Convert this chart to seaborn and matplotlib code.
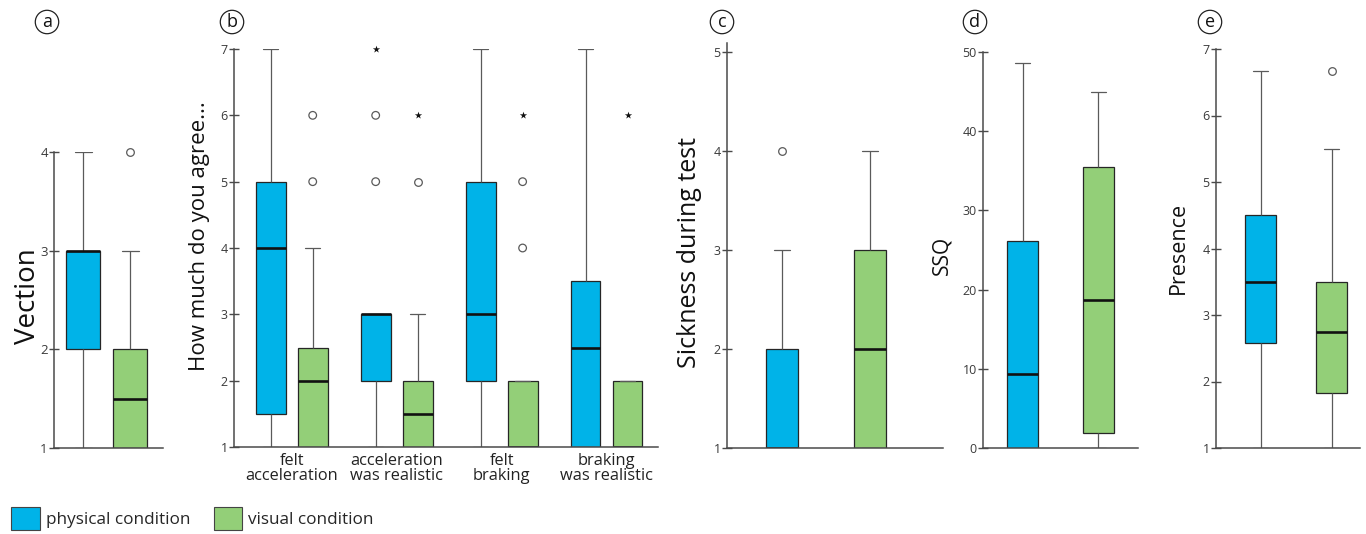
import numpy as np
import pandas as pd
import matplotlib
matplotlib.use("Agg")
import matplotlib.pyplot as plt
import seaborn as sns
from matplotlib.patches import Patch
from matplotlib.collections import PathCollection

# ---------------- data (five-number summaries) -------------
conditions = ["physical condition", "visual condition"]
condition_colors = ["#00B3E8", "#93CF78"]

# (a) Vection : [low whisker, Q1, median, Q3, high whisker]
a_physical = [1, 2, 3, 3, 4]
a_visual = [1, 1, 1.5, 2, 3]
a_circle_cond = ["visual condition"]
a_circle_val = [4]

# (b) How much do you agree...
b_questions = ["felt\nacceleration", "acceleration\nwas realistic",
               "felt\nbraking", "braking\nwas realistic"]
b_physical = [[1, 1.5, 4, 5, 7],
              [1, 2, 3, 3, 3],
              [1, 2, 3, 5, 7],
              [1, 1, 2.5, 3.5, 7]]
b_visual = [[1, 1, 2, 2.5, 4],
            [1, 1, 1.5, 2, 3],
            [1, 1, 1, 2, 2],
            [1, 1, 1, 2, 2]]
b_circle_q = [0, 0, 1, 1, 1, 2, 2]
b_circle_cond = ["visual condition", "visual condition", "physical condition",
                 "physical condition", "visual condition", "visual condition",
                 "visual condition"]
b_circle_val = [5, 6, 5, 6, 5, 4, 5]
b_star_q = [1, 1, 2, 3]
b_star_cond = ["physical condition", "visual condition", "visual condition",
               "visual condition"]
b_star_val = [7, 6, 6, 6]

# (c) Sickness during test
c_physical = [1, 1, 1, 2, 3]
c_visual = [1, 1, 2, 3, 4]
c_circle_cond = ["physical condition"]
c_circle_val = [4]

# (d) SSQ
d_physical = [0, 0, 9.3, 26.1, 48.6]
d_visual = [0, 1.9, 18.7, 35.5, 44.9]

# (e) Presence
e_physical = [1, 2.58, 3.5, 4.5, 6.67]
e_visual = [1, 1.83, 2.75, 3.5, 5.5]
e_circle_cond = ["visual condition"]
e_circle_val = [6.67]

# ---------------- style -------------
sns.set_style("ticks")
plt.rcParams["font.family"] = ["Open Sans", "DejaVu Sans"]

W, H = 1366, 534
fig = plt.figure(figsize=(W / 100, H / 100), dpi=100)
palette = dict(zip(conditions, condition_colors))

EDGE = "#262626"
WHISK = "#5a5a5a"
SPINE = "#4a4a4a"
TICKC = "#3a3a3a"


def add_ax(left, right, top, bottom):
    return fig.add_axes([left / W, 1 - bottom / H, (right - left) / W, (bottom - top) / H])


def box_kws():
    return dict(whis=(0, 100), showfliers=False, saturation=1, linecolor=EDGE,
                linewidth=0.9, legend=False,
                medianprops=dict(color="#111111", linewidth=1.9),
                whiskerprops=dict(color=WHISK, linewidth=0.9),
                capprops=dict(color=WHISK, linewidth=0.9))


def single_frame(phys, vis):
    rows = [(conditions[0], v) for v in phys] + [(conditions[1], v) for v in vis]
    return pd.DataFrame(rows, columns=["condition", "value"])


def style_ax(ax, yticks, ylim, xlim, label, lsize, lx, ly, tsize=9):
    ax.set_ylim(*ylim)
    ax.set_xlim(*xlim)
    ax.set_yticks(yticks)
    ax.set_yticklabels([str(t) for t in yticks])
    ax.tick_params(axis="y", direction="inout", length=7, width=1.0, color=SPINE,
                   labelsize=tsize, labelcolor=TICKC, pad=1)
    ax.tick_params(axis="x", length=0)
    sns.despine(ax=ax)
    for s in ["left", "bottom"]:
        ax.spines[s].set_color(SPINE)
        ax.spines[s].set_linewidth(1.1)
    ax.set_ylabel(label, fontsize=lsize, color="#111111")
    ax.yaxis.label.set_va("center")
    pos = ax.get_position()
    ax.yaxis.set_label_coords((lx / W - pos.x0) / pos.width,
                              ((1 - ly / H) - pos.y0) / pos.height)
    ax.set_xlabel("")
    # let outlier markers sitting on the top of the axis show fully
    for coll in ax.collections:
        if (isinstance(coll, PathCollection) and len(coll.get_offsets()) > 0
                and coll.get_offset_transform() is ax.transData):
            coll.set_clip_on(False)


def circles(ax, df, x, hue, dodge, order, hue_order):
    sns.stripplot(data=df, x=x, y="value", hue=hue, order=order, hue_order=hue_order,
                  dodge=dodge, jitter=False, palette={c: "white" for c in conditions},
                  edgecolor=WHISK, linewidth=0.9, size=5.5, marker="o", legend=False, ax=ax)


def stars(ax, df, x, hue, dodge, order, hue_order):
    sns.stripplot(data=df, x=x, y="value", hue=hue, order=order, hue_order=hue_order,
                  dodge=dodge, jitter=False, palette={c: "#111111" for c in conditions},
                  linewidth=0, size=5.5, marker="*", legend=False, ax=ax)


def single_panel(ax, phys, vis, width, circ_cond=None, circ_val=None):
    df = single_frame(phys, vis)
    sns.boxplot(data=df, x="condition", y="value", hue="condition", order=conditions,
                hue_order=conditions, palette=palette, width=width, ax=ax, **box_kws())
    if circ_cond:
        fdf = pd.DataFrame({"condition": circ_cond, "value": circ_val})
        circles(ax, fdf, "condition", "condition", False, conditions, conditions)
    ax.set_xticks([])


# (a)
ax_a = add_ax(54, 163, 152, 448)
single_panel(ax_a, a_physical, a_visual, 0.72, a_circle_cond, a_circle_val)
style_ax(ax_a, [1, 2, 3, 4], (1, 4), (-0.62, 1.70), "Vection", 20, 28, 296, tsize=9.5)

# (b)
ax_b = add_ax(234, 658, 49, 447)
rows = []
for qi, q in enumerate(b_questions):
    rows += [(q, conditions[0], v) for v in b_physical[qi]]
    rows += [(q, conditions[1], v) for v in b_visual[qi]]
df_b = pd.DataFrame(rows, columns=["question", "condition", "value"])
sns.boxplot(data=df_b, x="question", y="value", hue="condition", order=b_questions,
            hue_order=conditions, palette=palette, width=0.8, gap=0.29, ax=ax_b,
            **box_kws())
df_bc = pd.DataFrame({"question": [b_questions[i] for i in b_circle_q],
                      "condition": b_circle_cond, "value": b_circle_val})
circles(ax_b, df_bc, "question", "condition", True, b_questions, conditions)
df_bs = pd.DataFrame({"question": [b_questions[i] for i in b_star_q],
                      "condition": b_star_cond, "value": b_star_val})
stars(ax_b, df_bs, "question", "condition", True, b_questions, conditions)
style_ax(ax_b, [1, 2, 3, 4, 5, 6, 7], (1, 7), (-0.55, 3.49), "How much do you agree...",
         16, 200, 236)
ax_b.set_xticks(range(len(b_questions)))
ax_b.set_xticklabels(b_questions, fontsize=11.8, color="#222222", linespacing=0.95)
ax_b.tick_params(axis="x", pad=4)

# (c)
ax_c = add_ax(727, 943, 43, 448)
single_panel(ax_c, c_physical, c_visual, 0.36, c_circle_cond, c_circle_val)
style_ax(ax_c, [1, 2, 3, 4, 5], (1, 5.09), (-0.62, 1.82), "Sickness during test",
         18, 690, 253)

# (d)
ax_d = add_ax(983, 1138, 52, 448)
single_panel(ax_d, d_physical, d_visual, 0.41)
style_ax(ax_d, [0, 10, 20, 30, 40, 50], (0, 50), (-0.52, 1.52), "SSQ", 15, 942, 255)

# (e)
ax_e = add_ax(1216, 1360, 49, 448)
single_panel(ax_e, e_physical, e_visual, 0.44, e_circle_cond, e_circle_val)
style_ax(ax_e, [1, 2, 3, 4, 5, 6, 7], (1, 7), (-0.63, 1.40), "Presence", 15.5, 1178, 248)

# panel letters
for letter, xp in zip("abcde", [47, 232, 722, 975, 1210]):
    fig.text(xp / W, 1 - 22 / H, letter, ha="center", va="center", fontsize=13,
             color="#111111",
             bbox=dict(boxstyle="circle,pad=0.15", fc="none", ec="#222222", lw=0.9))

# legend
handles = [Patch(facecolor=c, edgecolor="#444444", linewidth=0.8, label=l)
           for c, l in zip(condition_colors, conditions)]
fig.legend(handles=handles, loc="lower left", bbox_to_anchor=(8 / W, 1 / H), ncol=2,
           frameon=False, fontsize=12.3, handlelength=1.65, handleheight=1.65,
           handletextpad=0.35, columnspacing=1.4, borderaxespad=0, borderpad=0.2)

fig.savefig("out.png", dpi=100)
